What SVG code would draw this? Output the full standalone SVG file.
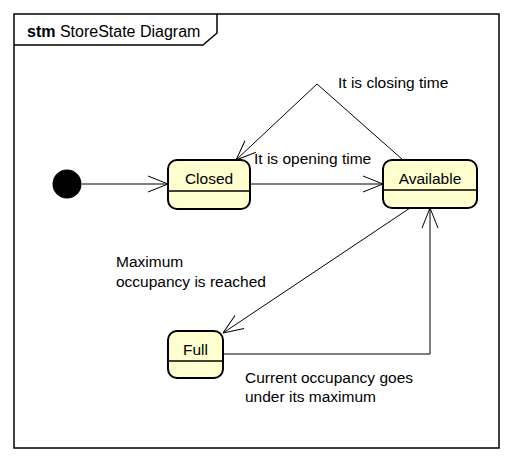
<svg xmlns="http://www.w3.org/2000/svg" width="512" height="461" viewBox="0 0 512 461">
<style>
text{font-family:"Liberation Sans",Arial,sans-serif;font-size:15.5px;fill:#000}
.title{font-size:16px}
.st{fill:#FEFECE;stroke:#000;stroke-width:2}
.dv{stroke:#000;stroke-width:1.5}
.ln{fill:none;stroke:#000;stroke-width:1}
</style>
<defs>
<marker id="arr" viewBox="0 0 20 20" refX="20" refY="10" markerWidth="20" markerHeight="20" markerUnits="userSpaceOnUse" orient="auto">
<path d="M0,2 L20,10 L0,18" fill="none" stroke="#000" stroke-width="1"/>
</marker>
</defs>
<rect width="512" height="461" fill="#fff"/>
<g id="frame">
<rect x="14" y="14" width="485" height="434" fill="none" stroke="#000" stroke-width="1.5"/>
<path d="M14,45 L203,45 L217,33 L217,14" fill="none" stroke="#000" stroke-width="1.5"/>
<text class="title" x="27" y="37"><tspan font-weight="bold">stm</tspan> StoreState Diagram</text>
</g>
<g id="connectors">
<line class="ln" x1="82" y1="184" x2="168" y2="184" marker-end="url(#arr)"/>
<line class="ln" x1="250" y1="184" x2="383" y2="184" marker-end="url(#arr)"/>
<polyline class="ln" points="403,160 317,84 236,160" marker-end="url(#arr)"/>
<line class="ln" x1="410" y1="208" x2="223" y2="333" marker-end="url(#arr)"/>
<polyline class="ln" points="223,354 430,354 430,208" marker-end="url(#arr)"/>
<text x="338" y="88">It is closing time</text>
<text x="254" y="164">It is opening time</text>
<text x="116" y="267">Maximum</text>
<text x="116" y="287">occupancy is reached</text>
<text x="245" y="383">Current occupancy goes</text>
<text x="245" y="402">under its maximum</text>
</g>
<g id="initial">
<circle cx="67" cy="184" r="14.5" fill="#000"/>
</g>
<g id="closed">
<rect class="st" x="168" y="160" width="82" height="49" rx="9"/>
<line class="dv" x1="168" y1="191" x2="250" y2="191"/>
<text x="209" y="184" text-anchor="middle">Closed</text>
</g>
<g id="available">
<rect class="st" x="383" y="160" width="94" height="48" rx="9"/>
<line class="dv" x1="383" y1="190" x2="477" y2="190"/>
<text x="430" y="184" text-anchor="middle">Available</text>
</g>
<g id="full">
<rect class="st" x="168" y="331" width="55" height="47" rx="9"/>
<line class="dv" x1="168" y1="361" x2="223" y2="361"/>
<text x="195.5" y="355" text-anchor="middle">Full</text>
</g>
</svg>
